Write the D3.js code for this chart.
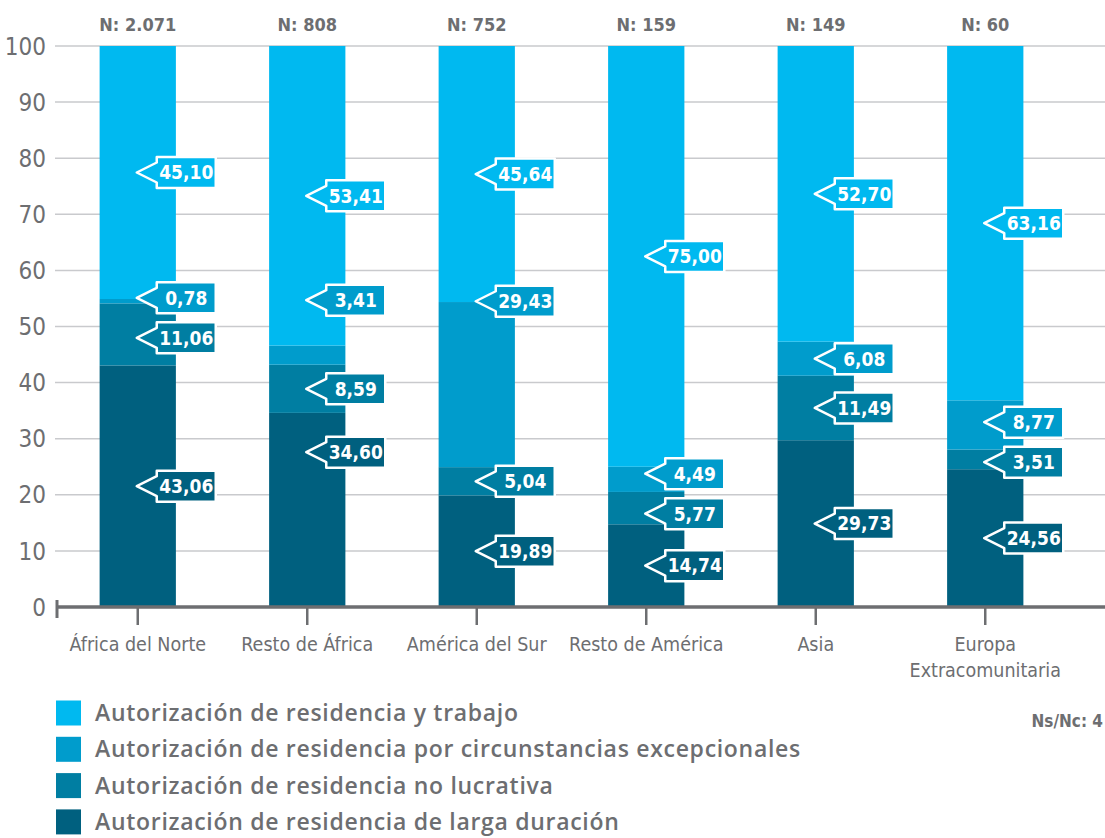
<!DOCTYPE html>
<html lang="es">
  <head>
    <meta charset="utf-8">
    <title>Autorizaciones de residencia por origen</title>
    <script src="https://d3js.org/d3.v7.min.js"></script>
    <style>
      body { margin: 0; background: #fff; }
      .cond { font-family: "Liberation Sans Narrow", "DejaVu Sans Condensed", "Arial Narrow", sans-serif; font-stretch: condensed; }
    </style>
  </head>
  <body>
    <script type="text/javascript">

    var w = 1105;
    var h = 838;

    // data
    var categories = ["África del Norte", "Resto de África", "América del Sur",
                      "Resto de América", "Asia", "Europa Extracomunitaria"];
    var totals = ["2.071", "808", "752", "159", "149", "60"];
    var seriesNames = ["Autorización de residencia y trabajo",
                       "Autorización de residencia por circunstancias excepcionales",
                       "Autorización de residencia no lucrativa",
                       "Autorización de residencia de larga duración"];
    var largaDuracion  = [43.06, 34.60, 19.89, 14.74, 29.73, 24.56];
    var noLucrativa    = [11.06, 8.59, 5.04, 5.77, 11.49, 3.51];
    var circunstancias = [0.78, 3.41, 29.43, 4.49, 6.08, 8.77];
    var trabajo        = [45.10, 53.41, 45.64, 75.00, 52.70, 63.16];
    var yTicks = [0, 10, 20, 30, 40, 50, 60, 70, 80, 90, 100];
    var nsnc = "Ns/Nc: 4";

    var keys = ["larga", "nolucr", "circ", "trabajo"];
    var colors = {trabajo: "#00b9f0", circ: "#009ccc", nolucr: "#007ea2", larga: "#00607f"};
    var legendKeys = ["trabajo", "circ", "nolucr", "larga"];
    var grey = "#6d6e71";

    var rows = categories.map(function(c, i) {
      return {cat: c, larga: largaDuracion[i], nolucr: noLucrativa[i],
              circ: circunstancias[i], trabajo: trabajo[i]};
    });

    // a few labels were placed by hand in the original (value on the y scale)
    var labelAnchor = {"Resto de África|circ": 54.7, "Resto de África|larga": 27.6,
                       "América del Sur|circ": 54.5};

    var svg = d3.select("body").append("svg")
                .attr("width", w).attr("height", h);

    var x = d3.scaleBand()
              .domain(categories)
              .range([53, 1070])
              .paddingInner(0.55)
              .paddingOuter(0.275);

    var y = d3.scaleLinear().domain([0, 100]).range([607, 46]);

    // grid
    svg.append("g").selectAll("line")
       .data(yTicks.filter(d => d > 0))
       .enter().append("line")
       .attr("x1", 55).attr("x2", w)
       .attr("y1", d => y(d)).attr("y2", d => y(d))
       .attr("stroke", "#c9cacd").attr("stroke-width", 1.5);

    // y labels
    svg.append("g").selectAll("text")
       .data(yTicks).enter().append("text")
       .attr("class", "cond")
       .attr("x", 46).attr("y", d => y(d))
       .attr("dy", "0.36em")
       .attr("text-anchor", "end")
       .attr("font-size", 24)
       .attr("fill", grey)
       .text(d => d);

    var stack = d3.stack().keys(keys)(rows);

    // bars
    svg.append("g").selectAll("g")
       .data(stack).enter().append("g")
       .attr("fill", d => colors[d.key])
       .selectAll("rect")
       .data(d => d).enter().append("rect")
       .attr("x", d => x(d.data.cat))
       .attr("width", x.bandwidth())
       .attr("y", d => y(d[1]))
       .attr("height", d => y(d[0]) - y(d[1]));

    // x axis
    var xAxis = d3.axisBottom(x).tickSize(18).tickPadding(6).tickFormat("");
    var gx = svg.append("g")
                .attr("transform", "translate(0," + y(0) + ")")
                .call(xAxis);
    gx.select(".domain").remove();
    gx.selectAll(".tick line").attr("stroke", grey).attr("stroke-width", 2.5);
    svg.append("line")
       .attr("x1", 56).attr("x2", w)
       .attr("y1", y(0)).attr("y2", y(0))
       .attr("stroke", grey).attr("stroke-width", 3.5);
    svg.append("line")
       .attr("x1", 57).attr("x2", 57)
       .attr("y1", y(0) - 7).attr("y2", y(0) + 11)
       .attr("stroke", grey).attr("stroke-width", 3);

    var catLabels = {"Europa Extracomunitaria": ["Europa", "Extracomunitaria"]};
    gx.selectAll(".tick").each(function(d) {
      var lines = catLabels[d] || [d];
      var t = d3.select(this).append("text")
                .attr("class", "cond")
                .attr("y", 44)
                .attr("text-anchor", "middle")
                .attr("font-size", 19.5)
                .attr("fill", grey);
      lines.forEach(function(l, i) {
        t.append("tspan").attr("x", 0).attr("dy", i ? 26 : 0).text(l);
      });
    });

    // N labels
    svg.append("g").selectAll("text")
       .data(categories).enter().append("text")
       .attr("class", "cond")
       .attr("x", d => x(d) + x.bandwidth() / 2)
       .attr("y", 31)
       .attr("text-anchor", "middle")
       .attr("font-size", 18)
       .attr("font-weight", "bold")
       .attr("fill", grey)
       .text((d, i) => "N: " + totals[i]);

    // callout labels
    var labels = [];
    categories.forEach(function(c, ci) {
      var items = [];
      stack.forEach(function(s) {
        var d = s[ci];
        var anchor = labelAnchor[c + "|" + s.key];
        var v = anchor != null ? anchor : (d[0] + d[1]) / 2;
        items.push({cat: c, key: s.key, val: d[1] - d[0], cy: y(v)});
      });
      items.sort((a, b) => a.cy - b.cy);
      var gap = 40;
      for (var it = 0; it < 30; it++) {
        for (var k = 0; k < items.length - 1; k++) {
          var a = items[k], b = items[k + 1];
          var diff = b.cy - a.cy;
          if (diff < gap) {
            var push = (gap - diff) / 2;
            a.cy -= push; b.cy += push;
          }
        }
      }
      labels = labels.concat(items);
    });

    var fmt = v => d3.format(".2f")(v).replace(".", ",");
    var boxW = 59, boxH = 31;

    var lg = svg.append("g").selectAll("g")
                .data(labels).enter().append("g")
                .attr("transform", d => "translate(" + (x(d.cat) + x.bandwidth() / 2) + "," + d.cy + ")");

    lg.append("path")
      .attr("d", function() {
        var l = 19, r = l + boxW, t = -boxH / 2, b = boxH / 2;
        return "M" + l + "," + t + "H" + r + "V" + b + "H" + l +
               "V10L-1,0L" + l + ",-10Z";
      })
      .attr("fill", d => colors[d.key])
      .attr("stroke", "#fff")
      .attr("stroke-width", 2.5)
      .attr("stroke-linejoin", "round");

    lg.append("text")
      .attr("class", "cond")
      .attr("x", 19 + boxW / 2)
      .attr("dy", "0.36em")
      .attr("text-anchor", "middle")
      .attr("font-size", 19)
      .attr("font-weight", "bold")
      .attr("fill", "#fff")
      .text(d => fmt(d.val));

    // legend
    var leg = svg.append("g").selectAll("g")
                 .data(legendKeys).enter().append("g")
                 .attr("transform", (d, i) => "translate(56," + (713 + i * 36.3) + ")");
    leg.append("rect")
       .attr("y", -12.5).attr("width", 25).attr("height", 25)
       .attr("fill", d => colors[d]);
    leg.append("text")
       .attr("x", 39).attr("dy", "0.35em")
       .attr("font-family", "'Open Sans', Lato, sans-serif")
       .attr("font-weight", 600)
       .attr("font-size", 23)
       .attr("letter-spacing", 0.7)
       .attr("fill", grey)
       .text((d, i) => seriesNames[i]);

    svg.append("text")
       .attr("class", "cond")
       .attr("x", 1103).attr("y", 727)
       .attr("text-anchor", "end")
       .attr("font-size", 17)
       .attr("font-weight", "bold")
       .attr("fill", grey)
       .text(nsnc);

    </script>
  </body>
</html>
